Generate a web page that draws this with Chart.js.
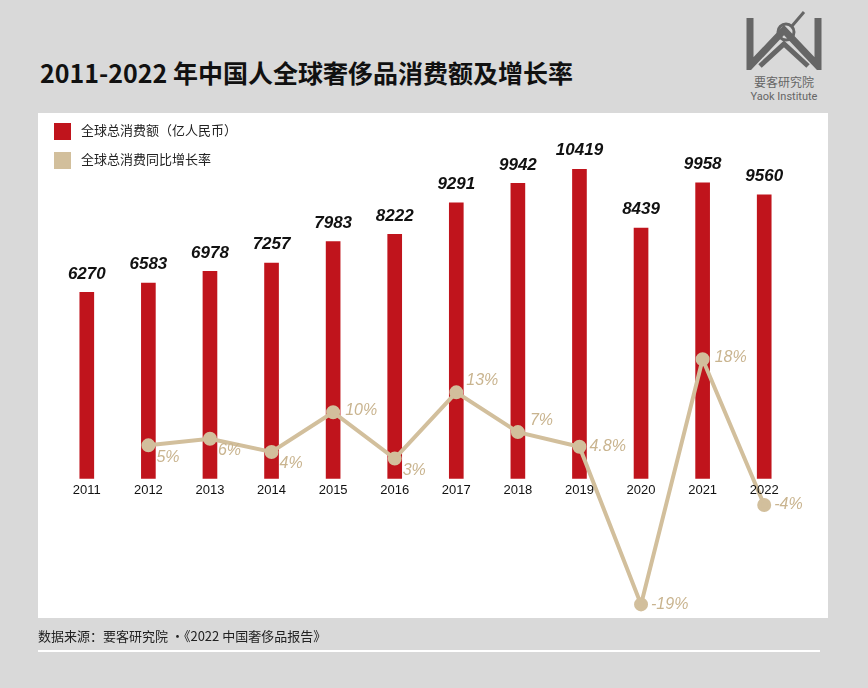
<!DOCTYPE html>
<html><head><meta charset="utf-8">
<script src="https://cdn.jsdelivr.net/npm/chart.js@4"></script>
<style>
body{margin:0;width:868px;height:688px;background:#d9d9d9;position:relative;overflow:hidden;font-family:"Noto Sans CJK SC",sans-serif}
#title{position:absolute;left:40px;top:54px;font-size:25px;font-weight:bold;color:#111;font-family:"Noto Sans CJK SC"}
#panel{position:absolute;left:38px;top:113px;width:790px;height:505px;background:#fff}
#cv{position:absolute;left:38px;top:103px}
.lg{position:absolute;left:54px;font-size:13px;color:#222}
.lg span{display:inline-block;width:17px;height:17px;vertical-align:middle;margin-right:10px}
#src{position:absolute;left:38px;top:626px;font-size:13px;color:#222}
#rule{position:absolute;left:38px;top:650px;width:782px;height:2px;background:#fff}
#logo{position:absolute;left:744px;top:10px;width:80px;text-align:center;color:#666}
</style></head><body>
<div id="title">2011-2022 年中国人全球奢侈品消费额及增长率</div>
<div id="logo"><svg width="76" height="60" viewBox="0 0 76 60"><path d="M4 8 L4 56 L38 20 L72 56 L72 8" fill="none" stroke="#666" stroke-width="7"/><path d="M14 56 L38 34 L62 56" fill="none" stroke="#666" stroke-width="5"/><circle cx="40" cy="22" r="8" fill="none" stroke="#666" stroke-width="3"/><line x1="46" y1="16" x2="58" y2="2" stroke="#666" stroke-width="3"/></svg>
<div style="font-size:12px;margin-top:-2px">要客研究院</div><div style="font-size:11px;font-family:Roboto">Yaok Institute</div></div>
<div id="panel"></div>
<canvas id="cv" width="790" height="525"></canvas>
<div class="lg" style="top:120px"><span style="background:#c0141c"></span>全球总消费额（亿人民币）</div>
<div class="lg" style="top:149px"><span style="background:#d2bf9c"></span>全球总消费同比增长率</div>
<div id="src">数据来源：要客研究院 ·《2022 中国奢侈品报告》</div>
<div id="rule"></div>
<script>
const categories=["2011","2012","2013","2014","2015","2016","2017","2018","2019","2020","2021","2022"];
const spending=[6270,6583,6978,7257,7983,8222,9291,9942,10419,8439,9958,9560];
const growth=[null,5,6,4,10,3,13,7,4.8,-19,18,-4];
const growthLabels=[null,"5%","6%","4%","10%","3%","13%","7%","4.8%","-19%","18%","-4%"];
const red="#c0141c",tan="#d2bf9c";
const labels={id:"lbl",afterDatasetsDraw(c){const x=c.ctx,xs=c.scales.x,yb=c.scales.y;
x.save();
const m0=c.getDatasetMeta(0),m1=c.getDatasetMeta(1);
x.font="italic bold 17px 'Liberation Sans'";x.fillStyle="#111";x.textAlign="center";x.textBaseline="bottom";
m0.data.forEach((b,i)=>x.fillText(spending[i],b.x,b.y-10));
x.font="13px 'Liberation Sans'";x.textBaseline="top";
categories.forEach((t,i)=>x.fillText(t,xs.getPixelForValue(i),yb.getPixelForValue(0)+5));
x.font="italic 16px 'Liberation Sans'";x.fillStyle="#c9b48f";x.textAlign="left";x.textBaseline="middle";
m1.data.forEach((p,i)=>{if(growth[i]==null)return;let dx=8,dy=12;if(i==4||i==10){dy=-2;dx=12;}if(i==6){dy=-12;dx=10;}if(i==8||i==9||i==11){dy=0;dx=10;}if(i==7){dy=-12;dx=12;}x.fillText(growthLabels[i],p.x+dx,p.y+dy);});
x.restore();}};
new Chart(document.getElementById("cv"),{data:{labels:categories,datasets:[
{type:"bar",data:spending,backgroundColor:red,barThickness:14,yAxisID:"y",order:2},
{type:"line",data:growth,borderColor:tan,backgroundColor:tan,borderWidth:4,pointRadius:5,pointBackgroundColor:tan,pointBorderColor:tan,yAxisID:"y2",order:1,spanGaps:false}]},
options:{responsive:false,animation:false,layout:{padding:{left:18,right:33,top:0,bottom:0}},
plugins:{legend:{display:false},tooltip:{enabled:false}},
scales:{x:{display:false},y:{display:false,min:-4736,max:12348},y2:{display:false,min:-21.2,max:55.3}}},
plugins:[labels]});
</script></body></html>
